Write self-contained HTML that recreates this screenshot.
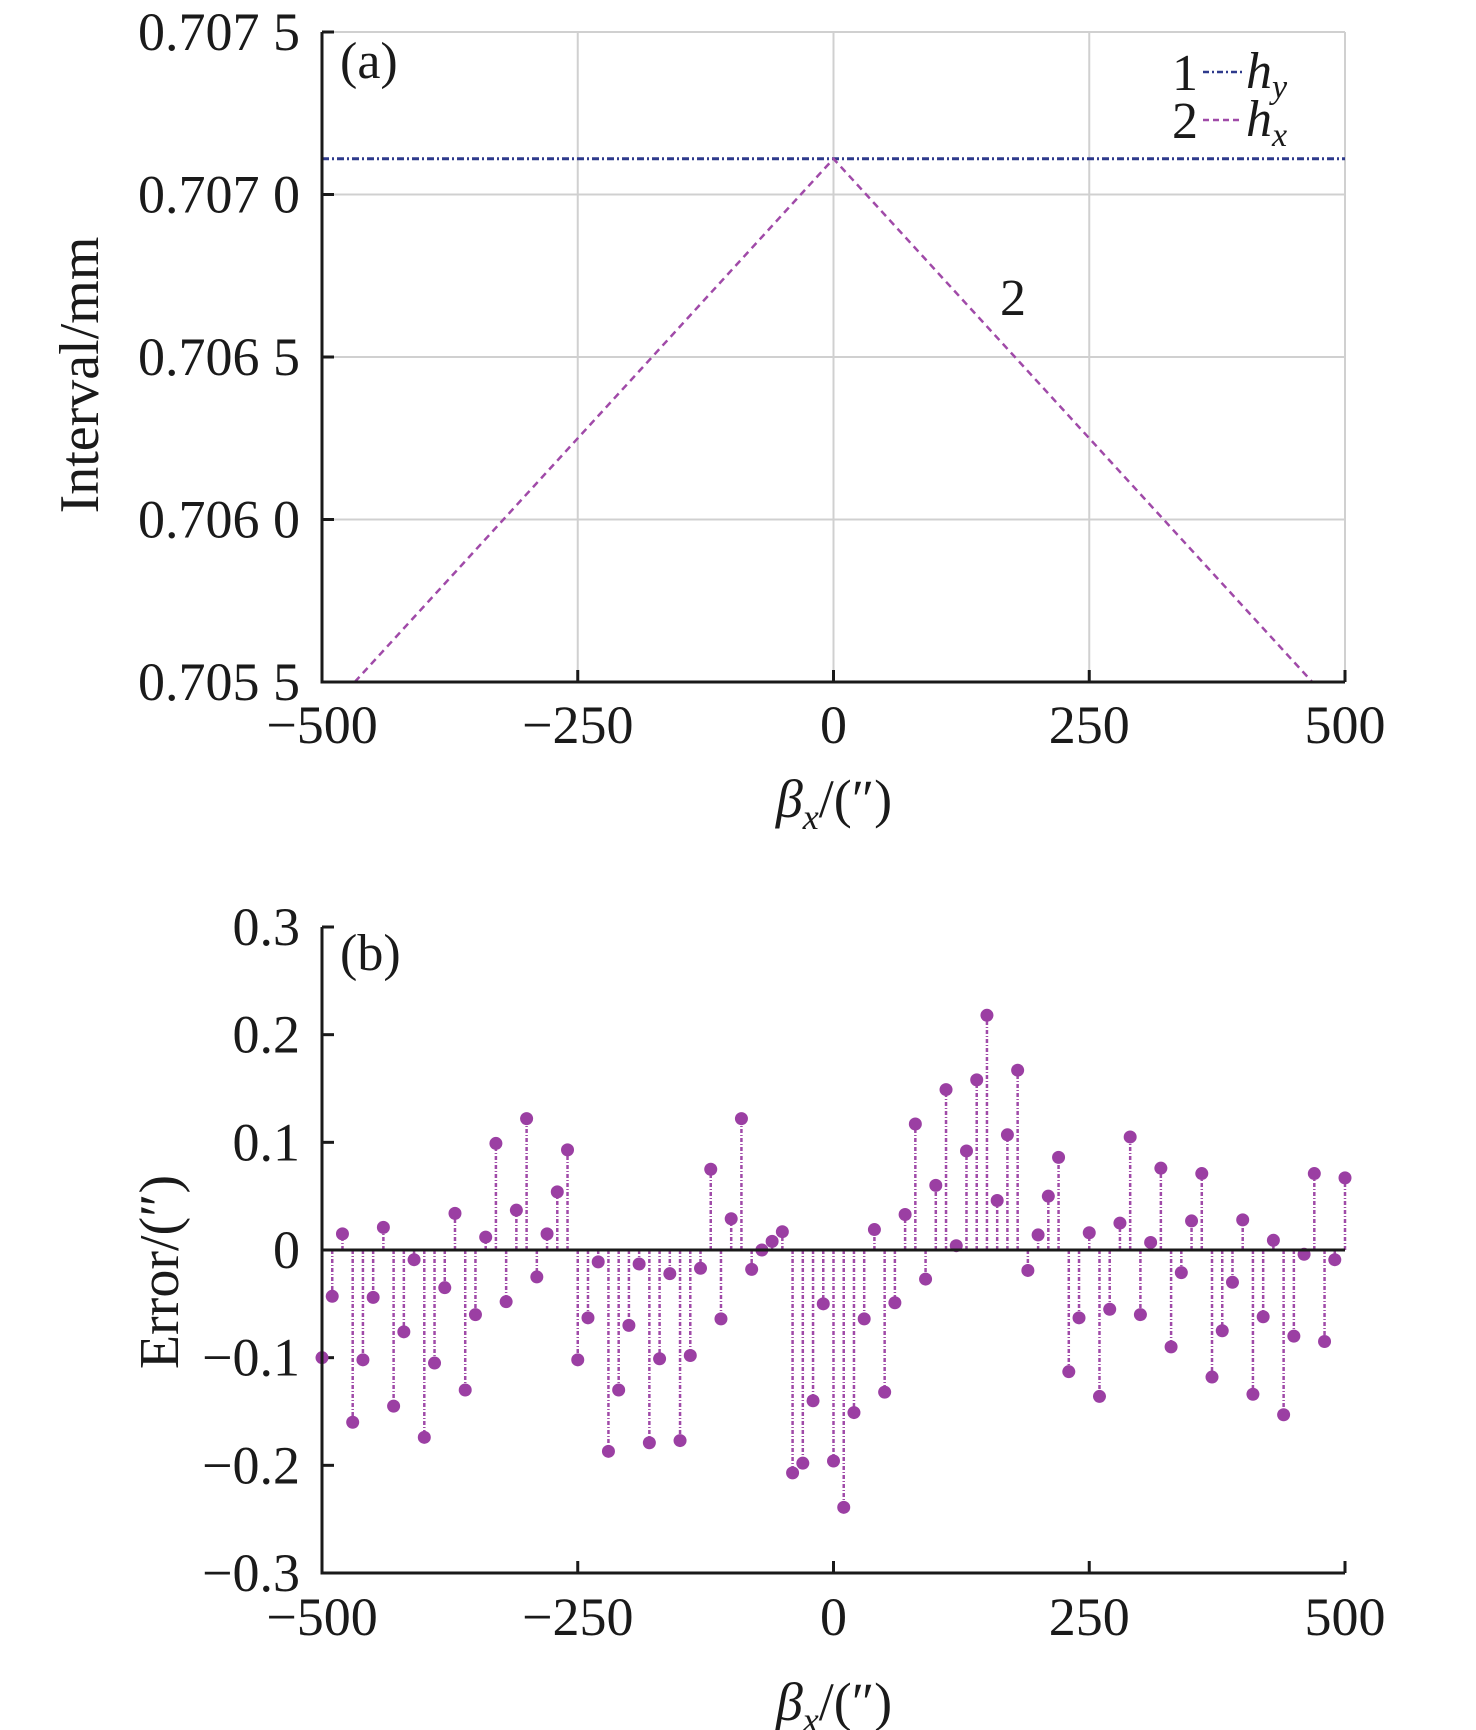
<!DOCTYPE html>
<html><head><meta charset="utf-8"><style>
html,body{margin:0;padding:0;background:#fff;}
svg{display:block;font-family:"Liberation Serif",serif;}
</style></head><body>
<svg id="s" width="1476" height="1730" xmlns="http://www.w3.org/2000/svg">
<g id="ga"></g>
<g font-size="52" fill="#1a1a1a">
<text x="340" y="78">(a)</text>
<text x="340" y="970">(b)</text>
<text x="1000" y="315">2</text>
<text x="1172" y="90">1</text>
<text x="1172" y="138">2</text>
<text x="1246" y="88" font-style="italic">h<tspan font-size="34" dy="10">y</tspan></text>
<text x="1246" y="136" font-style="italic">h<tspan font-size="34" dy="10">x</tspan></text>
<text font-size="56" transform="translate(98,375) rotate(-90)" text-anchor="middle">Interval/mm</text>
<text font-size="56" transform="translate(178,1272) rotate(-90)" text-anchor="middle">Error/(″)</text>
<text font-size="54" x="834" y="817" text-anchor="middle"><tspan font-style="italic">β</tspan><tspan font-style="italic" font-size="36" dy="12">x</tspan><tspan dy="-12">/(″)</tspan></text>
<text font-size="54" x="834" y="1720" text-anchor="middle"><tspan font-style="italic">β</tspan><tspan font-style="italic" font-size="36" dy="12">x</tspan><tspan dy="-12">/(″)</tspan></text>
</g>
<line x1="1203" y1="72" x2="1242" y2="72" stroke="#2e3a8c" stroke-width="2.5" stroke-dasharray="6,3,2,3"/>
<line x1="1203" y1="120" x2="1242" y2="120" stroke="#a04aa8" stroke-width="2.5" stroke-dasharray="6,4"/>
</svg>
<script>
var g=document.getElementById('ga'),h='';
var L=322,R=1345,FS=54;
function X(v){return L+(v+500)/1000*(R-L);}
var T=32,B=682;
function Ya(v){return T+(0.7075-v)/0.002*(B-T);}
var ya=[0.7075,0.707,0.7065,0.706,0.7055],yl=['0.707 5','0.707 0','0.706 5','0.706 0','0.705 5'];
for(var i=0;i<5;i++){var y=Ya(ya[i]);h+='<line x1="'+L+'" y1="'+y+'" x2="'+R+'" y2="'+y+'" stroke="#d0d0d0" stroke-width="2"/>';
h+='<text x="300" y="'+(y+18)+'" font-size="'+FS+'" text-anchor="end" fill="#1a1a1a">'+yl[i]+'</text>';
h+='<line x1="'+L+'" y1="'+y+'" x2="'+(L+12)+'" y2="'+y+'" stroke="#1a1a1a" stroke-width="3"/>';}
var xs=[-500,-250,0,250,500];
for(var i=0;i<5;i++){var x=X(xs[i]);if(i>0)h+='<line x1="'+x+'" y1="'+T+'" x2="'+x+'" y2="'+B+'" stroke="#d0d0d0" stroke-width="2"/>';
h+='<line x1="'+x+'" y1="'+B+'" x2="'+x+'" y2="'+(B-12)+'" stroke="#1a1a1a" stroke-width="3"/>';
h+='<text x="'+x+'" y="743" font-size="'+FS+'" text-anchor="middle" fill="#1a1a1a">'+(xs[i]<0?'−'+(-xs[i]):xs[i])+'</text>';}
var py=Ya(0.70711);
h+='<line x1="'+L+'" y1="'+py+'" x2="'+R+'" y2="'+py+'" stroke="#2e3a8c" stroke-width="3" stroke-dasharray="7,3,2,3"/>';
h+='<polyline points="'+X(-468)+','+B+' '+X(0)+','+py+' '+X(468)+','+B+'" fill="none" stroke="#a04aa8" stroke-width="2.5" stroke-dasharray="7,5"/>';
h+='<polyline points="'+L+','+T+' '+L+','+B+' '+R+','+B+'" fill="none" stroke="#1a1a1a" stroke-width="3"/>';
var T2=927,B2=1573;
function Yb(v){return T2+(0.3-v)/0.6*(B2-T2);}
var yb=[0.3,0.2,0.1,0,-0.1,-0.2,-0.3],ybl=['0.3','0.2','0.1','0','−0.1','−0.2','−0.3'];
for(var i=0;i<7;i++){var y=Yb(yb[i]);h+='<text x="300" y="'+(y+18)+'" font-size="'+FS+'" text-anchor="end" fill="#1a1a1a">'+ybl[i]+'</text>';
h+='<line x1="'+L+'" y1="'+y+'" x2="'+(L+12)+'" y2="'+y+'" stroke="#1a1a1a" stroke-width="3"/>';}
for(var i=0;i<5;i++){var x=X(xs[i]);h+='<line x1="'+x+'" y1="'+B2+'" x2="'+x+'" y2="'+(B2-12)+'" stroke="#1a1a1a" stroke-width="3"/>';
h+='<text x="'+x+'" y="1635" font-size="'+FS+'" text-anchor="middle" fill="#1a1a1a">'+(xs[i]<0?'−'+(-xs[i]):xs[i])+'</text>';}
var d=[-0.10,-0.043,0.015,-0.16,-0.102,-0.044,0.021,-0.145,-0.076,-0.009,-0.174,-0.105,-0.035,0.034,-0.13,-0.06,0.012,0.099,-0.048,0.037,0.122,-0.025,0.015,0.054,0.093,-0.102,-0.063,-0.011,-0.187,-0.13,-0.07,-0.013,-0.179,-0.101,-0.022,-0.177,-0.098,-0.017,0.075,-0.064,0.029,0.122,-0.018,0.0,0.008,0.017,-0.207,-0.198,-0.14,-0.05,-0.196,-0.239,-0.151,-0.064,0.019,-0.132,-0.049,0.033,0.117,-0.027,0.06,0.149,0.004,0.092,0.158,0.218,0.046,0.107,0.167,-0.019,0.014,0.05,0.086,-0.113,-0.063,0.016,-0.136,-0.055,0.025,0.105,-0.06,0.007,0.076,-0.09,-0.021,0.027,0.071,-0.118,-0.075,-0.03,0.028,-0.134,-0.062,0.009,-0.153,-0.08,-0.004,0.071,-0.085,-0.009,0.067];
var z=Yb(0);
for(var i=0;i<d.length;i++){var x=X(-500+10*i),y=Yb(d[i]);
h+='<line x1="'+x+'" y1="'+z+'" x2="'+x+'" y2="'+y+'" stroke="#a04aa8" stroke-width="2.5" stroke-dasharray="4,2,1,2"/>';
h+='<circle cx="'+x+'" cy="'+y+'" r="6.5" fill="#9b3fa3"/>';}
h+='<line x1="'+L+'" y1="'+z+'" x2="'+R+'" y2="'+z+'" stroke="#1a1a1a" stroke-width="3"/>';
h+='<polyline points="'+L+','+T2+' '+L+','+B2+' '+R+','+B2+'" fill="none" stroke="#1a1a1a" stroke-width="3"/>';
g.innerHTML=h;
</script>
</body></html>
